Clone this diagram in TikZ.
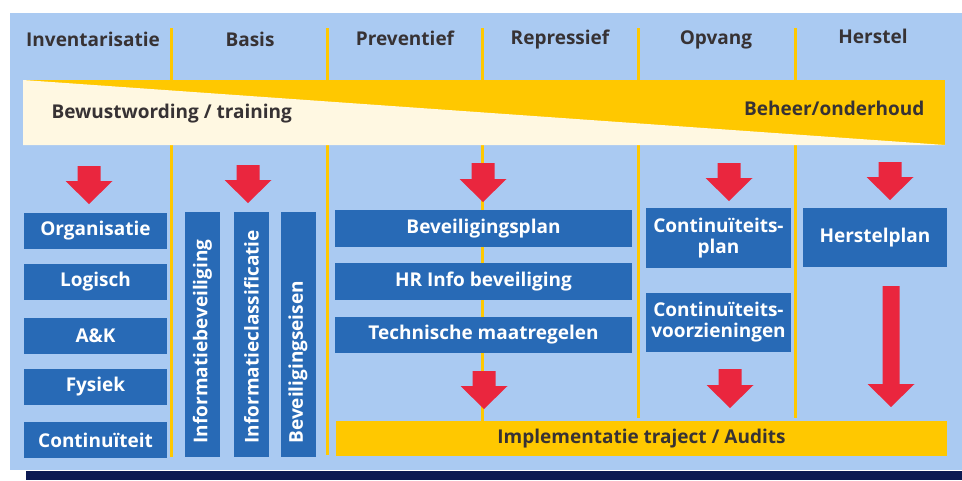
\documentclass[tikz,border=0pt]{standalone}
\usepackage{fontspec}
\setsansfont{Open Sans}
\renewcommand{\familydefault}{\sfdefault}

\definecolor{achtergrond}{RGB}{170,202,242}
\definecolor{blokblauw}{RGB}{40,106,182}
\definecolor{geel}{RGB}{255,200,0}
\definecolor{room}{RGB}{255,248,226}
\definecolor{pijlrood}{RGB}{234,38,62}
\definecolor{tekstgrijs}{RGB}{55,50,52}
\definecolor{marine}{RGB}{12,26,82}

\tikzset{
	kop/.style={text=tekstgrijs, font=\bfseries\fontsize{19}{21}\selectfont, anchor=base},
	blok/.style={fill=blokblauw, text=white, inner sep=0pt, align=center,
		font=\bfseries\fontsize{19}{21}\selectfont},
	staand/.style={blok, minimum width=35pt, minimum height=245pt},
	staandtekst/.style={text=white, font=\bfseries\fontsize{19}{21}\selectfont, rotate=90, anchor=west},
	fasegrens/.style={draw=geel, line width=3pt},
}

% rode blokpijl: x midden, y boven, y punt, halve schachtbreedte
\newcommand{\pijl}[4]{\fill[pijlrood] (#1-#4,#2) -- (#1+#4,#2) -- (#1+#4,#3-23) -- (#1+23.5,#3-23) -- (#1,#3) -- (#1-23.5,#3-23) -- (#1-#4,#3-23) -- cycle;}

\begin{document}
\begin{tikzpicture}[x=1pt,y=-1pt]
	\useasboundingbox (0,0) rectangle (962,480);
	\fill[achtergrond] (10,13) rectangle (962,470);
	\fill[marine] (26,471) rectangle (962,480);

	% fasegrenzen
	\draw[fasegrens] (171,28) -- (171,457);
	\draw[fasegrens] (327,28) -- (327,455);
	\draw[fasegrens] (482,28) -- (482,421);
	\draw[fasegrens] (638,28) -- (638,418);
	\draw[fasegrens] (795,28) -- (795,418);

	% koppen
	\node[kop] (inv) at (93,46) {Inventarisatie};
	\node[kop] (basis) at (250,46) {Basis};
	\node[kop] (prev) at (405,45) {Preventief};
	\node[kop] (repr) at (560,44) {Repressief};
	\node[kop] (opv) at (716,44) {Opvang};
	\node[kop] (herst) at (873,43) {Herstel};

	% balk bewustwording / beheer
	\fill[geel] (23,80) rectangle (945,145);
	\fill[room] (23,80) -- (945,145) -- (23,145) -- cycle;
	\node[kop, anchor=base west] (bewust) at (48,118) {Bewustwording / training};
	\node[kop, anchor=base east] (beheer) at (928,115) {Beheer/onderhoud};

	% inventarisatie
	\node[blok, minimum width=143pt, minimum height=36pt] (org) at (95.5,230.5) {Organisatie};
	\node[blok, minimum width=143pt, minimum height=36pt] (log) at (95.5,282) {Logisch};
	\node[blok, minimum width=143pt, minimum height=36pt] (ak) at (95.5,335.5) {A\&K};
	\node[blok, minimum width=143pt, minimum height=36pt] (fys) at (95.5,387) {Fysiek};
	\node[blok, minimum width=143pt, minimum height=36pt] (cont) at (95.5,440) {Continuïteit};

	% basis
	\node[staand] (ib) at (202.5,334.5) {};
	\node[staand] (ic) at (251.5,334.5) {};
	\node[staand] (be) at (298,334.5) {};
	\node[staandtekst] (ibtekst) at (202.5,447) {Informatiebeveiliging};
	\node[staandtekst] (ictekst) at (251.5,447) {Informatieclassificatie};
	\node[staandtekst] (betekst) at (298,447) {Beveiligingseisen};

	% preventief / repressief
	\node[blok, minimum width=297pt, minimum height=37pt] (bplan) at (483.5,228.5) {Beveiligingsplan};
	\node[blok, minimum width=297pt, minimum height=37pt] (hr) at (483.5,281.5) {HR Info beveiliging};
	\node[blok, minimum width=297pt, minimum height=36pt] (techn) at (483.5,335) {Technische maatregelen};

	% opvang en herstel
	\node[blok, minimum width=145pt, minimum height=60pt] (cplan) at (718.5,238) {Continuïteits-\\plan};
	\node[blok, minimum width=145pt, minimum height=59pt] (cvoorz) at (718.5,322.5) {Continuïteits-\\voorzieningen};
	\node[blok, minimum width=144pt, minimum height=59pt] (hplan) at (875,237.5) {Herstelplan};

	% implementatie
	\node[fill=geel, text=tekstgrijs, minimum width=611pt, minimum height=35pt, inner sep=0pt,
		font=\bfseries\fontsize{19}{21}\selectfont] (impl) at (641.5,438.5) {Implementatie traject / Audits};

	% pijlen
	\pijl{89}{166}{204}{11.5}
	\pijl{248}{165}{203}{11.5}
	\pijl{483}{163}{202}{11.5}
	\pijl{484}{371}{409}{11.5}
	\pijl{729}{163}{201}{11.5}
	\pijl{730}{369}{408}{11.5}
	\pijl{890}{162}{200}{11.5}
	\pijl{891}{286}{407}{8.5}
\end{tikzpicture}
\end{document}
